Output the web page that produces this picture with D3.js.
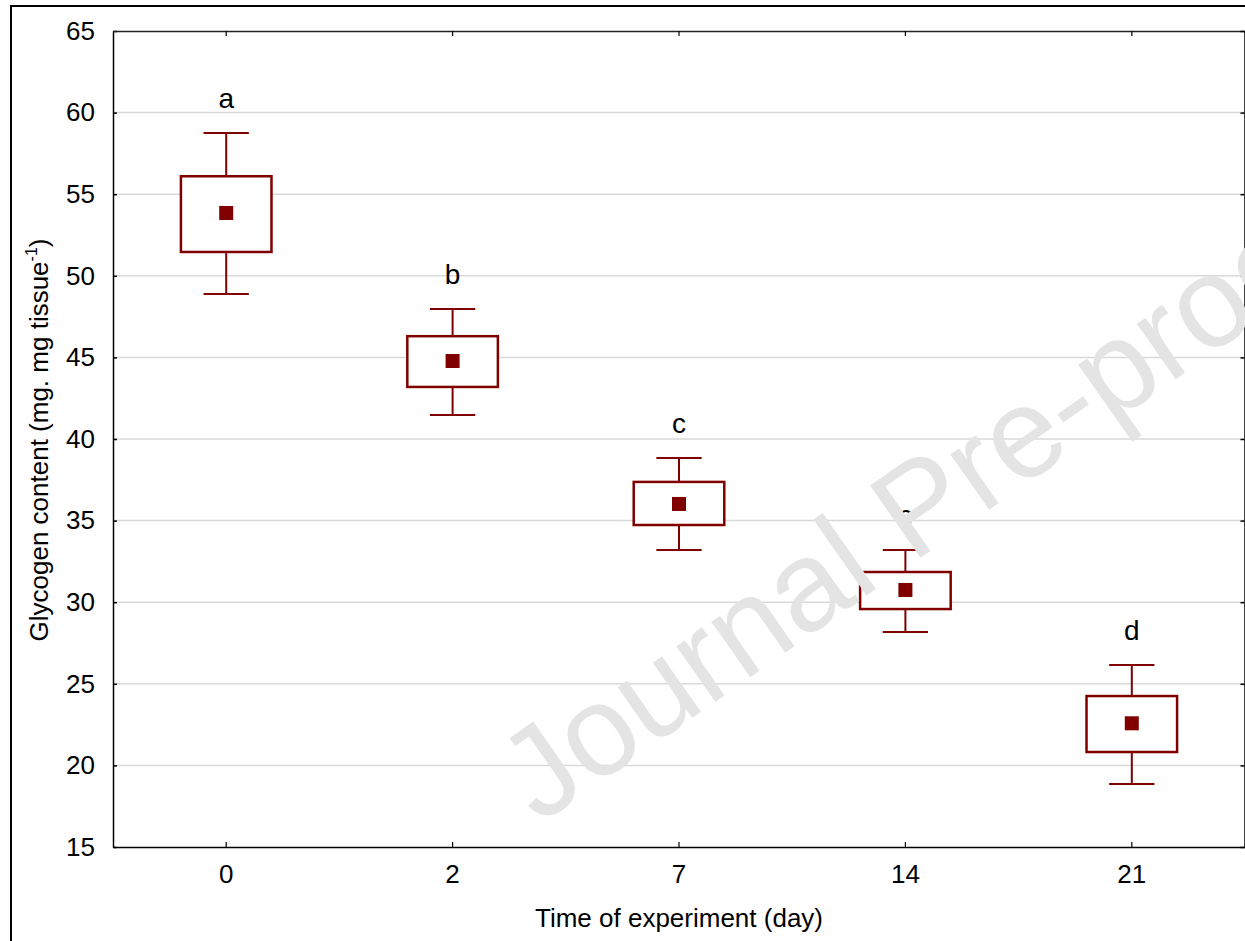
<!DOCTYPE html>
<html>
<head>
<meta charset="utf-8">
<script src="https://cdn.jsdelivr.net/npm/d3@7"></script>
<style>
  html, body { margin: 0; padding: 0; background: #ffffff; }
  svg { display: block; }
  text { font-family: "Liberation Sans", Arial, Helvetica, sans-serif; }
</style>
</head>
<body>
<svg id="chart" width="1245" height="941"></svg>
<script>
// ---- data ----
const days = ["0", "2", "7", "14", "21"];
const means = [53.85, 44.78, 36.02, 30.75, 22.58];
const boxLow = [51.46, 43.19, 34.73, 29.58, 20.82];
const boxHigh = [56.10, 46.30, 37.37, 31.85, 24.25];
const whiskerLow = [48.88, 41.47, 33.20, 28.17, 18.86];
const whiskerHigh = [58.75, 47.97, 38.84, 33.20, 26.15];
const groupLetters = ["a", "b", "c", "c", "d"];
const yTickValues = [15, 20, 25, 30, 35, 40, 45, 50, 55, 60, 65];
const gridValues = [20, 25, 30, 35, 40, 45, 50, 55, 60];
const xTitle = "Time of experiment (day)";
const yTitleMain = "Glycogen content (mg. mg tissue";
const yTitleSup = "-1";
const watermark = "Journal Pre-proof";

// ---- layout ----
const W = 1245, H = 941;
const plot = { left: 113, top: 31, right: 1245, bottom: 847 };
const dark = "#800000";
const svg = d3.select("#chart");

svg.append("rect").attr("x", 0).attr("y", 0).attr("width", W).attr("height", H).attr("fill", "#fff");

// outer frame (extends beyond the picture)
svg.append("rect")
  .attr("x", 11).attr("y", 6).attr("width", 1400).attr("height", 1100)
  .attr("fill", "none").attr("stroke", "#000").attr("stroke-width", 2);

const x = d3.scaleBand().domain(days).range([plot.left, plot.right]).padding(0);
const y = d3.scaleLinear().domain([15, 65]).range([plot.bottom, plot.top]);
const cx = d => x(d) + x.bandwidth() / 2;

// gridlines
svg.append("g").selectAll("line").data(gridValues).join("line")
  .attr("x1", plot.left).attr("x2", plot.right)
  .attr("y1", d => y(d)).attr("y2", d => y(d))
  .attr("stroke", "#d9d9d9").attr("stroke-width", 1.5);

// axes
const fontSize = 26;
const leftAxis = d3.axisLeft(y).tickValues(yTickValues).tickSizeInner(-4).tickSizeOuter(0).tickPadding(18);
const gL = svg.append("g").attr("transform", `translate(${plot.left},0)`).call(leftAxis);
gL.select(".domain").attr("stroke", "#000").attr("stroke-width", 1.5);
gL.selectAll(".tick line").attr("stroke", "#000").attr("stroke-width", 1.5);
gL.selectAll(".tick text").attr("font-size", fontSize).attr("fill", "#000")
  .attr("font-family", "Liberation Sans, Arial, sans-serif");

const bottomAxis = d3.axisBottom(x).tickSizeInner(-5).tickSizeOuter(0).tickPadding(18);
const gB = svg.append("g").attr("transform", `translate(0,${plot.bottom})`).call(bottomAxis);
gB.select(".domain").attr("stroke", "#000").attr("stroke-width", 1.5);
gB.selectAll(".tick line").attr("stroke", "#000").attr("stroke-width", 1.2);
gB.selectAll(".tick text").attr("font-size", fontSize).attr("fill", "#000")
  .attr("font-family", "Liberation Sans, Arial, sans-serif");

const topAxis = d3.axisTop(x).tickSizeInner(-5).tickSizeOuter(0).tickFormat("");
const gT = svg.append("g").attr("transform", `translate(0,${plot.top})`).call(topAxis);
gT.select(".domain").attr("stroke", "#222").attr("stroke-width", 1.3);
gT.selectAll(".tick line").attr("stroke", "#000").attr("stroke-width", 1.2);

const rightAxis = d3.axisRight(y).tickValues(yTickValues).tickSizeInner(-4).tickSizeOuter(0).tickFormat("");
const gR = svg.append("g").attr("transform", `translate(${plot.right - 0.5},0)`).call(rightAxis);
gR.select(".domain").attr("stroke", "#000").attr("stroke-width", 1.5);
gR.selectAll(".tick line").attr("stroke", "#000").attr("stroke-width", 1.5);

// axis titles
svg.append("text")
  .attr("x", (plot.left + plot.right) / 2).attr("y", 927)
  .attr("text-anchor", "middle").attr("font-size", fontSize).attr("fill", "#000")
  .text(xTitle);

const yt = svg.append("text")
  .attr("transform", `translate(48,440) rotate(-90)`)
  .attr("text-anchor", "middle").attr("font-size", fontSize).attr("fill", "#000");
yt.append("tspan").text(yTitleMain);
yt.append("tspan").attr("font-size", 16).attr("dy", -11).text(yTitleSup);
yt.append("tspan").attr("dy", 11).text(")");

// group letters
svg.append("g").selectAll("text").data(days).join("text")
  .attr("x", d => cx(d))
  .attr("y", (d, i) => y(whiskerHigh[i]) - 25)
  .attr("text-anchor", "middle").attr("font-size", 28).attr("fill", "#000")
  .text((d, i) => groupLetters[i]);

// boxes
const boxW = x.bandwidth() * 0.4;
const capW = x.bandwidth() * 0.2;
const g = svg.append("g").selectAll("g").data(days).join("g");
g.append("line")
  .attr("x1", d => cx(d)).attr("x2", d => cx(d))
  .attr("y1", (d, i) => y(whiskerHigh[i])).attr("y2", (d, i) => y(boxHigh[i]))
  .attr("stroke", dark).attr("stroke-width", 2);
g.append("line")
  .attr("x1", d => cx(d)).attr("x2", d => cx(d))
  .attr("y1", (d, i) => y(whiskerLow[i])).attr("y2", (d, i) => y(boxLow[i]))
  .attr("stroke", dark).attr("stroke-width", 2);
g.append("line")
  .attr("x1", d => cx(d) - capW / 2).attr("x2", d => cx(d) + capW / 2)
  .attr("y1", (d, i) => y(whiskerHigh[i])).attr("y2", (d, i) => y(whiskerHigh[i]))
  .attr("stroke", dark).attr("stroke-width", 2);
g.append("line")
  .attr("x1", d => cx(d) - capW / 2).attr("x2", d => cx(d) + capW / 2)
  .attr("y1", (d, i) => y(whiskerLow[i])).attr("y2", (d, i) => y(whiskerLow[i]))
  .attr("stroke", dark).attr("stroke-width", 2);
g.append("rect")
  .attr("x", d => cx(d) - boxW / 2).attr("width", boxW)
  .attr("y", (d, i) => y(boxHigh[i]))
  .attr("height", (d, i) => y(boxLow[i]) - y(boxHigh[i]))
  .attr("fill", "#fff").attr("stroke", dark).attr("stroke-width", 2.5);
const ms = 14;
g.append("rect")
  .attr("x", d => cx(d) - ms / 2).attr("width", ms)
  .attr("y", (d, i) => y(means[i]) - ms / 2).attr("height", ms)
  .attr("fill", dark);

// watermark overlay
svg.append("text")
  .attr("transform", "translate(539,825) rotate(-35)")
  .attr("font-size", 128).attr("fill", "#e4e4e4")
  .text(watermark);
</script>
</body>
</html>
